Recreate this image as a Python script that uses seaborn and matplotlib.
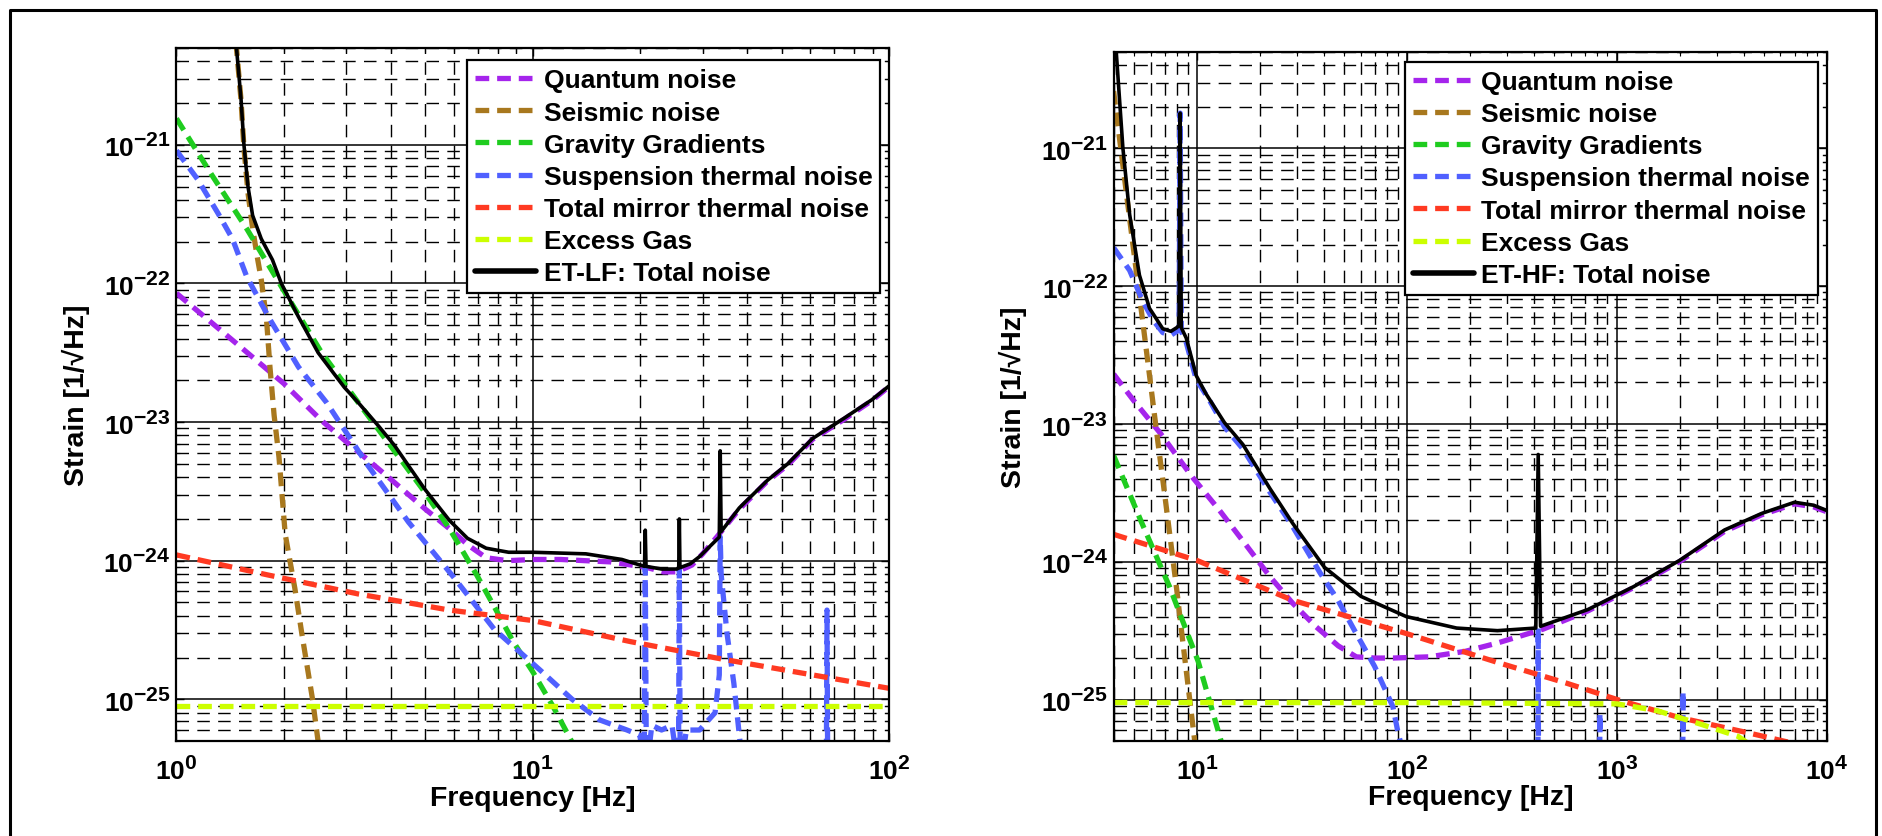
import numpy as np
import matplotlib
matplotlib.use("Agg")
import matplotlib.pyplot as plt
import matplotlib._mathtext as _mt
import seaborn as sns
from matplotlib.ticker import FixedLocator, NullFormatter, FuncFormatter
from matplotlib.lines import Line2D

# ---------------- ET-LF (left panel) ----------------
lf_black_f = [1.43, 1.474, 1.518, 1.547, 1.588, 1.636, 1.73, 1.86, 1.97, 2.2, 2.5, 2.96, 3.24, 3.7,
              4.09, 4.97, 5.84, 6.56, 7.4, 8.56, 10.0, 14.1, 17.8, 20.0, 20.6, 20.7, 20.8, 23.0,
              25.4, 25.7, 25.8, 25.9, 27.7, 29.4, 33.4, 33.6, 33.8, 38.0, 45.6, 52.0, 61.0, 75.0,
              89.6, 100.0]
lf_black_h = [1.26e-20, 5.0e-21, 2.14e-21, 1.0e-21, 5.0e-22, 3.1e-22, 2.1e-22, 1.48e-22, 1.0e-22,
              5.75e-23, 3.16e-23, 1.78e-23, 1.38e-23, 9.3e-24, 6.8e-24, 3.3e-24, 1.95e-24, 1.45e-24,
              1.23e-24, 1.15e-24, 1.15e-24, 1.12e-24, 1.02e-24, 9.3e-25, 9.1e-25, 1.66e-24, 9.1e-25,
              8.7e-25, 8.7e-25, 8.9e-25, 2.0e-24, 8.9e-25, 9.5e-25, 1.07e-24, 1.48e-24, 6.2e-24,
              1.62e-24, 2.4e-24, 3.8e-24, 5.0e-24, 7.6e-24, 1.07e-23, 1.45e-23, 1.82e-23]

lf_quantum_f = [1.0, 1.5, 2.0, 2.56, 3.0, 3.98, 5.0, 5.84, 6.6, 7.4, 8.5, 10.0, 12.0, 14.0, 16.5,
                18.9, 21.0, 23.3, 25.4, 28.0, 30.0, 33.0, 38.0, 45.6, 52.0, 61.0, 75.0, 89.6, 100.0]
lf_quantum_h = [8.5e-23, 3.55e-23, 1.9e-23, 1.02e-23, 7.2e-24, 3.9e-24, 2.35e-24, 1.7e-24, 1.29e-24,
                1.05e-24, 1.0e-24, 1.02e-24, 1.02e-24, 1.0e-24, 9.8e-25, 9.3e-25, 8.9e-25, 8.3e-25,
                8.3e-25, 9.3e-25, 1.12e-24, 1.5e-24, 2.35e-24, 3.75e-24, 4.9e-24, 7.5e-24, 1.05e-23,
                1.43e-23, 1.8e-23]

lf_seismic_f = [1.40, 1.474, 1.518, 1.547, 1.588, 1.636, 1.69, 1.73, 1.79, 1.83, 1.88, 1.94, 2.02,
                2.15, 2.25, 2.41, 2.5, 2.6]
lf_seismic_h = [4.0e-20, 5.0e-21, 2.1e-21, 9.5e-22, 4.5e-22, 2.5e-22, 1.5e-22, 1.07e-22, 5.5e-23,
                2.5e-23, 1.12e-23, 5.6e-24, 1.55e-24, 6.3e-25, 2.95e-25, 1.0e-25, 4.9e-26, 2.5e-26]

lf_gravity_f = [1.0, 1.26, 1.58, 1.97, 2.55, 3.24, 3.98, 4.9, 5.84, 6.96, 7.82, 8.82, 10.0, 11.4,
                12.9, 14.0]
lf_gravity_h = [1.55e-21, 6.0e-22, 2.45e-22, 9.5e-23, 3.2e-23, 1.38e-23, 6.8e-24, 3.3e-24, 1.7e-24,
                7.9e-25, 4.6e-25, 2.6e-25, 1.58e-25, 8.9e-26, 4.9e-26, 3.5e-26]

lf_susp_f = [1.0, 1.149, 1.309, 1.436, 1.575, 1.83, 2.2, 2.64, 3.44, 4.48, 6.0, 7.8, 10.5, 12.9,
             15.4, 18.4, 20.0, 20.55, 20.7, 20.85, 21.6, 23.0, 24.6, 25.65, 25.8, 25.95, 27.0, 29.4,
             32.5, 33.4, 33.6, 33.8, 35.1, 36.7, 38.2, 42.0, 60.0, 66.7, 67.0, 67.3, 75.0, 100.0]
lf_susp_h = [9.1e-22, 5.6e-22, 3.2e-22, 2.1e-22, 1.12e-22, 5.5e-23, 2.5e-23, 1.38e-23, 4.9e-24,
             1.9e-24, 7.6e-25, 3.2e-25, 1.62e-25, 1.0e-25, 7.1e-26, 6.0e-26, 5.5e-26, 3.0e-26,
             9.0e-25, 3.0e-26, 6.5e-26, 6.0e-26, 6.5e-26, 3.0e-26, 8.8e-25, 3.0e-26, 6.0e-26,
             6.0e-26, 8.0e-26, 1.5e-25, 1.48e-24, 8.0e-25, 3.0e-25, 1.3e-25, 4.9e-26, 2.0e-26,
             1.0e-26, 3.0e-26, 4.4e-25, 3.0e-26, 1.0e-26, 5.0e-27]

lf_mirror_f = [1.0, 1.8, 3.24, 5.84, 10.0, 18.9, 34.0, 100.0]
lf_mirror_h = [1.1e-24, 7.9e-25, 5.75e-25, 4.4e-25, 3.7e-25, 2.6e-25, 1.95e-25, 1.2e-25]

lf_gas_f = [1.0, 10.0, 100.0]
lf_gas_h = [9.0e-26, 9.0e-26, 9.0e-26]

# ---------------- ET-HF (right panel) ----------------
hf_black_f = [3.9, 4.1, 4.43, 4.77, 5.31, 5.93, 6.86, 7.5, 8.0, 8.2, 8.3, 8.4, 8.87, 9.9, 11.0,
              13.5, 16.5, 22.2, 28.5, 40.4, 60.3, 99.0, 172.0, 269.0, 410.0, 421.0, 432.0, 727.0,
              1200.0, 1980.0, 3250.0, 4880.0, 7000.0, 8630.0, 10000.0]
hf_black_h = [1.26e-20, 5.5e-21, 1.0e-21, 3.3e-22, 1.2e-22, 6.9e-23, 4.9e-23, 4.7e-23, 5.0e-23,
              5.2e-23, 1.8e-21, 5.0e-23, 4.2e-23, 2.24e-23, 1.66e-23, 1.02e-23, 7.1e-24, 3.4e-24,
              1.9e-24, 9.1e-25, 5.6e-25, 4.0e-25, 3.3e-25, 3.16e-25, 3.3e-25, 6.0e-24, 3.4e-25,
              4.5e-25, 6.6e-25, 1.02e-24, 1.7e-24, 2.24e-24, 2.7e-24, 2.57e-24, 2.35e-24]

hf_quantum_f = [4.0, 4.98, 6.7, 9.5, 12.8, 17.3, 22.2, 28.5, 36.6, 47.0, 57.3, 70.0, 85.6, 127.0,
                190.0, 269.0, 444.0, 727.0, 1200.0, 1980.0, 3250.0, 4880.0, 7000.0, 8630.0, 10000.0]
hf_quantum_h = [2.3e-23, 1.48e-23, 8.5e-24, 4.1e-24, 2.35e-24, 1.29e-24, 7.8e-25, 5.0e-25, 3.4e-25,
                2.45e-25, 2.04e-25, 2.0e-25, 2.0e-25, 2.04e-25, 2.24e-25, 2.57e-25, 3.24e-25,
                4.4e-25, 6.5e-25, 1.0e-24, 1.66e-24, 2.19e-24, 2.63e-24, 2.5e-24, 2.3e-24]

hf_seismic_f = [4.0, 4.5, 5.0, 5.5, 6.0, 6.5, 7.0, 7.5, 8.0, 8.5, 9.0, 9.5, 9.75, 10.2]
hf_seismic_h = [2.6e-21, 6.2e-22, 1.74e-22, 5.6e-23, 1.95e-23, 7.4e-24, 3.1e-24, 1.35e-24, 6.2e-25,
                2.8e-25, 1.35e-25, 6.8e-26, 4.9e-26, 2.5e-26]

hf_gravity_f = [4.0, 5.38, 7.38, 10.1, 13.0, 14.5]
hf_gravity_h = [5.9e-24, 2.0e-24, 6.6e-25, 1.9e-25, 5.0e-26, 2.5e-26]

hf_susp_f = [4.0, 4.77, 5.5, 6.2, 6.86, 7.5, 8.0, 8.2, 8.3, 8.4, 8.87, 9.9, 11.4, 13.5, 16.5, 22.2,
             28.5, 38.5, 47.0, 57.3, 70.0, 85.5, 90.0, 96.0, 120.0, 418.0, 421.0, 424.0, 820.0,
             828.0, 836.0, 2040.0, 2060.0, 2080.0, 10000.0]
hf_susp_h = [1.9e-22, 1.3e-22, 7.8e-23, 5.6e-23, 4.6e-23, 4.4e-23, 4.7e-23, 4.9e-23, 1.8e-21,
             4.7e-23, 3.9e-23, 2.1e-23, 1.5e-23, 9.5e-24, 6.6e-24, 3.2e-24, 1.8e-24, 8.3e-25,
             5.2e-25, 3.0e-25, 1.74e-25, 8.9e-26, 6.0e-26, 4.0e-26, 1.5e-26, 1.0e-27, 3.3e-25,
             1.0e-27, 1.0e-27, 8.0e-26, 1.0e-27, 1.0e-27, 1.15e-25, 1.0e-27, 1.0e-27]

hf_mirror_f = [4.0, 10.0, 28.5, 100.0, 269.0, 569.0, 1000.0, 1980.0, 4170.0, 6560.0, 10000.0]
hf_mirror_h = [1.58e-24, 1.02e-24, 5.25e-25, 3.0e-25, 1.86e-25, 1.32e-25, 1.0e-25, 7.4e-26, 5.75e-26,
               4.9e-26, 4.0e-26]

hf_gas_f = [4.0, 100.0, 1000.0, 1550.0, 2520.0, 3770.0, 5000.0]
hf_gas_h = [9.5e-26, 9.5e-26, 9.3e-26, 8.3e-26, 6.6e-26, 5.4e-26, 4.0e-26]

labels = ["Quantum noise", "Seismic noise", "Gravity Gradients", "Suspension thermal noise",
          "Total mirror thermal noise", "Excess Gas"]
colors = ["#A524EC", "#A8781E", "#1FCC1F", "#5060FF", "#FF3A22", "#CCFF00"]
lf_total_label = "ET-LF: Total noise"
hf_total_label = "ET-HF: Total noise"

lf_xticks = [1, 10, 100]
hf_xticks = [10, 100, 1000, 10000]
yticks = [1e-25, 1e-24, 1e-23, 1e-22, 1e-21]

# ---------------- style ----------------
sns.set_theme(style="white")
plt.rcParams["font.family"] = ["Liberation Sans", "DejaVu Sans"]
plt.rcParams["font.weight"] = "bold"
plt.rcParams["mathtext.fontset"] = "custom"
plt.rcParams["mathtext.rm"] = "Liberation Sans:bold"
plt.rcParams["mathtext.bf"] = "Liberation Sans:bold"
plt.rcParams["mathtext.it"] = "Liberation Sans:bold"
plt.rcParams["mathtext.sf"] = "Liberation Sans:bold"
_mt.SHRINK_FACTOR = 0.8

DASH = (0, (2.6, 1.5))
LW = 3.8

fig = plt.figure(figsize=(18.83, 8.37), dpi=100)
ax1 = fig.add_axes([0.0937, 0.1135, 0.3784, 0.828])
ax2 = fig.add_axes([0.5914, 0.1135, 0.3789, 0.8232])


def fmt(v, pos):
    e = int(round(np.log10(v)))
    return r"$\mathbf{10^{%d}}$" % e


def minor_ticks(lo, hi):
    out = []
    for d in range(-30, 6):
        for m in range(2, 10):
            v = m * 10.0 ** d
            if lo <= v <= hi:
                out.append(v)
    return out


def setup(ax, xlim):
    ax.set_xscale("log")
    ax.set_yscale("log")
    ax.set_xlim(*xlim)
    ax.set_ylim(5e-26, 5e-21)


def draw_panel(ax, series, total_f, total_h):
    for (f, h), c in zip(series, colors):
        sns.lineplot(x=f, y=h, ax=ax, color=c, sort=False, estimator=None,
                     linewidth=LW, linestyle=DASH)
    sns.lineplot(x=total_f, y=total_h, ax=ax, color="black", sort=False, estimator=None,
                 linewidth=2.6, linestyle="-")
    handles = [Line2D([], [], color=c, lw=LW, linestyle=DASH) for c in colors]
    handles.append(Line2D([], [], color="black", lw=4.0))
    return handles


def finish(ax, handles, total_label, anchor, xticks, xlim):
    ax.xaxis.set_major_locator(FixedLocator(xticks))
    ax.xaxis.set_minor_locator(FixedLocator(minor_ticks(*xlim)))
    ax.yaxis.set_major_locator(FixedLocator(yticks))
    ax.yaxis.set_minor_locator(FixedLocator(minor_ticks(5e-26, 5e-21)))
    ax.xaxis.set_major_formatter(FuncFormatter(fmt))
    ax.yaxis.set_major_formatter(FuncFormatter(fmt))
    ax.xaxis.set_minor_formatter(NullFormatter())
    ax.yaxis.set_minor_formatter(NullFormatter())
    ax.set_axisbelow(True)
    ax.grid(True, which="major", color="black", linestyle="-", linewidth=1.1)
    ax.grid(True, which="minor", color="black", linestyle=(0, (9, 6)), linewidth=1.0)
    ax.tick_params(which="both", direction="in", top=True, right=True, bottom=True, left=True,
                   colors="black")
    ax.tick_params(which="major", length=6, width=1.0, labelsize=19)
    ax.tick_params(which="minor", length=3, width=0.8)
    ax.tick_params(axis="x", which="major", pad=11)
    ax.tick_params(axis="y", which="major", pad=4)
    for s in ax.spines.values():
        s.set_color("black")
        s.set_linewidth(1.6)
    ax.set_xlabel("Frequency [Hz]", fontsize=20.5, fontweight="bold", color="black")
    ax.set_ylabel("Strain [1/\u221aHz]", fontsize=20.5, fontweight="bold", color="black")
    ax.xaxis.set_label_coords(0.5, -0.063)
    ax.yaxis.set_label_coords(-0.122, 0.5)
    leg = ax.legend(handles, labels + [total_label], loc="upper right", bbox_to_anchor=anchor,
                    borderaxespad=0, frameon=True, fancybox=False, framealpha=1,
                    edgecolor="black", facecolor="white",
                    prop={"size": 19, "weight": "bold"}, handlelength=2.3, handletextpad=0.3,
                    borderpad=0.3, labelspacing=0.31)
    leg.get_frame().set_linewidth(1.6)
    for t in leg.get_texts():
        t.set_color("black")


lf_xlim = (1, 100)
hf_xlim = (4, 1e4)

setup(ax1, lf_xlim)
h1 = draw_panel(ax1, [(lf_quantum_f, lf_quantum_h), (lf_seismic_f, lf_seismic_h),
                      (lf_gravity_f, lf_gravity_h), (lf_susp_f, lf_susp_h),
                      (lf_mirror_f, lf_mirror_h), (lf_gas_f, lf_gas_h)],
                lf_black_f, lf_black_h)
setup(ax1, lf_xlim)
finish(ax1, h1, lf_total_label, (0.988, 0.982), lf_xticks, lf_xlim)

setup(ax2, hf_xlim)
h2 = draw_panel(ax2, [(hf_quantum_f, hf_quantum_h), (hf_seismic_f, hf_seismic_h),
                      (hf_gravity_f, hf_gravity_h), (hf_susp_f, hf_susp_h),
                      (hf_mirror_f, hf_mirror_h), (hf_gas_f, hf_gas_h)],
                hf_black_f, hf_black_h)
setup(ax2, hf_xlim)
finish(ax2, h2, hf_total_label, (0.9874, 0.9855), hf_xticks, hf_xlim)

# outer frame
fig.add_artist(Line2D([0.0053, 0.0053, 0.9963, 0.9963], [-0.05, 0.9869, 0.9869, -0.05],
                      transform=fig.transFigure, color="black", lw=2.2))

fig.savefig("out.png", dpi=100)
